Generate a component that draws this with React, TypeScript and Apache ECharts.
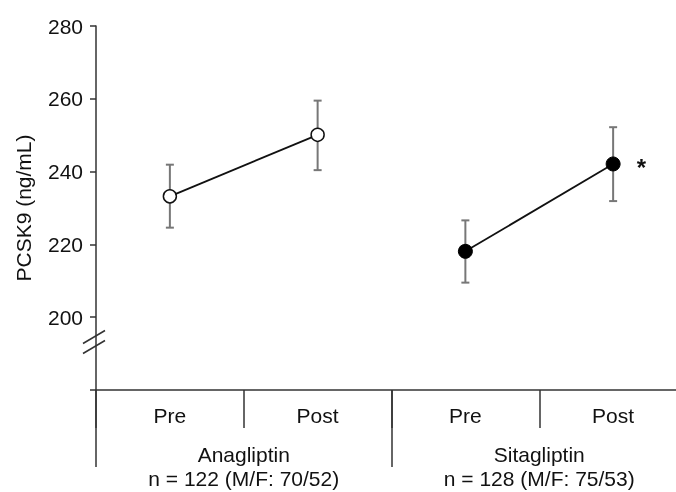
import React, { useEffect, useRef } from "react";
import * as echarts from "echarts";

const categories = ["Pre", "Post", "Pre", "Post"];
const groups = ["Anagliptin\nn = 122 (M/F: 70/52)", "Sitagliptin\nn = 128 (M/F: 75/53)"];
const anagliptin = [233.2, 250.1, null, null];
const sitagliptin = [null, null, 218.1, 242.1];
const errUpper = [241.9, 259.5, 226.6, 252.2];
const errLower = [224.6, 240.4, 209.5, 231.9];
const yTicks = [200, 220, 240, 260, 280];
const breakValue = 192.5;

const FONT = "'Liberation Sans', Arial, sans-serif";
const AXIS = "#333";

export default function App() {
  const ref = useRef<HTMLDivElement>(null);
  useEffect(() => {
    if (!ref.current) return;
    const chart = echarts.init(ref.current, null, { renderer: "svg" });
    const errData = categories.map((_, i) => [i, errLower[i], errUpper[i]]);
    chart.setOption({
      animation: false,
      textStyle: { fontFamily: FONT },
      grid: { left: 96, top: 26, width: 591, height: 364, outerBoundsMode: "none", containLabel: false },
      xAxis: [
        {
          type: "category",
          data: categories,
          position: "bottom",
          axisLine: { show: true, lineStyle: { color: AXIS, width: 1.5 } },
          axisTick: { show: true, interval: 0, length: 38, lineStyle: { color: AXIS, width: 1.5 } },
          axisLabel: { color: "#111", fontSize: 21, margin: 15, interval: 0, fontFamily: FONT },
        },
        {
          type: "category",
          data: groups,
          position: "bottom",
          axisLine: { show: false },
          axisTick: { show: true, interval: 0, length: 77, lineStyle: { color: AXIS, width: 1.5 } },
          axisLabel: { color: "#111", fontSize: 21, margin: 52, lineHeight: 24, interval: 0, fontFamily: FONT },
        },
      ],
      yAxis: {
        type: "value",
        min: 180,
        max: 280,
        name: "PCSK9 (ng/mL)",
        nameLocation: "middle",
        nameGap: 62,
        nameTextStyle: { color: "#111", fontSize: 21, fontFamily: FONT },
        axisLine: { show: true, lineStyle: { color: AXIS, width: 1.5 } },
        axisTick: { show: true, length: 6, customValues: [180, ...yTicks], lineStyle: { color: AXIS, width: 1.5 } },
        axisLabel: { color: "#111", fontSize: 21, margin: 13, customValues: yTicks, fontFamily: FONT },
        splitLine: { show: false },
      },
      series: [
        {
          type: "custom",
          xAxisIndex: 0,
          z: 1,
          data: errData,
          renderItem: (params: any, api: any) => {
            const x = api.value(0);
            const lo = api.coord([x, api.value(1)]);
            const hi = api.coord([x, api.value(2)]);
            const cap = 4;
            const style = { stroke: "#777", lineWidth: 2 };
            return {
              type: "group",
              children: [
                { type: "line", shape: { x1: lo[0], y1: lo[1], x2: hi[0], y2: hi[1] }, style },
                { type: "line", shape: { x1: lo[0] - cap, y1: lo[1], x2: lo[0] + cap, y2: lo[1] }, style },
                { type: "line", shape: { x1: hi[0] - cap, y1: hi[1], x2: hi[0] + cap, y2: hi[1] }, style },
              ],
            };
          },
        },
        {
          type: "line",
          name: "Anagliptin",
          data: anagliptin,
          z: 3,
          symbol: "circle",
          symbolSize: 13,
          lineStyle: { color: "#111", width: 1.8 },
          itemStyle: { color: "#fff", borderColor: "#111", borderWidth: 1.5 },
        },
        {
          type: "line",
          name: "Sitagliptin",
          data: sitagliptin.map((v, i) =>
            i === 3
              ? {
                  value: v,
                  label: {
                    show: true,
                    formatter: "*",
                    position: "right",
                    distance: 16,
                    fontSize: 24,
                    fontWeight: "bold",
                    color: "#111",
                    offset: [0, 4],
                  },
                }
              : v
          ),
          z: 3,
          symbol: "circle",
          symbolSize: 14,
          lineStyle: { color: "#111", width: 1.8 },
          itemStyle: { color: "#000", borderColor: "#000", borderWidth: 1 },
        },
      ],
    });
    const p = chart.convertToPixel({ gridIndex: 0 }, [0, breakValue]) as number[];
    const axisX = 96;
    const y = p[1];
    chart.setOption({
      graphic: [
        { type: "line", shape: { x1: axisX - 13, y1: y - 1, x2: axisX + 9, y2: y - 14 }, style: { stroke: AXIS, lineWidth: 1.5 } },
        { type: "line", shape: { x1: axisX - 13, y1: y + 9, x2: axisX + 9, y2: y - 4 }, style: { stroke: AXIS, lineWidth: 1.5 } },
      ],
    });
    return () => chart.dispose();
  }, []);
  return <div ref={ref} style={{ position: "fixed", left: 0, top: 0, width: 676, height: 492 }} />;
}
